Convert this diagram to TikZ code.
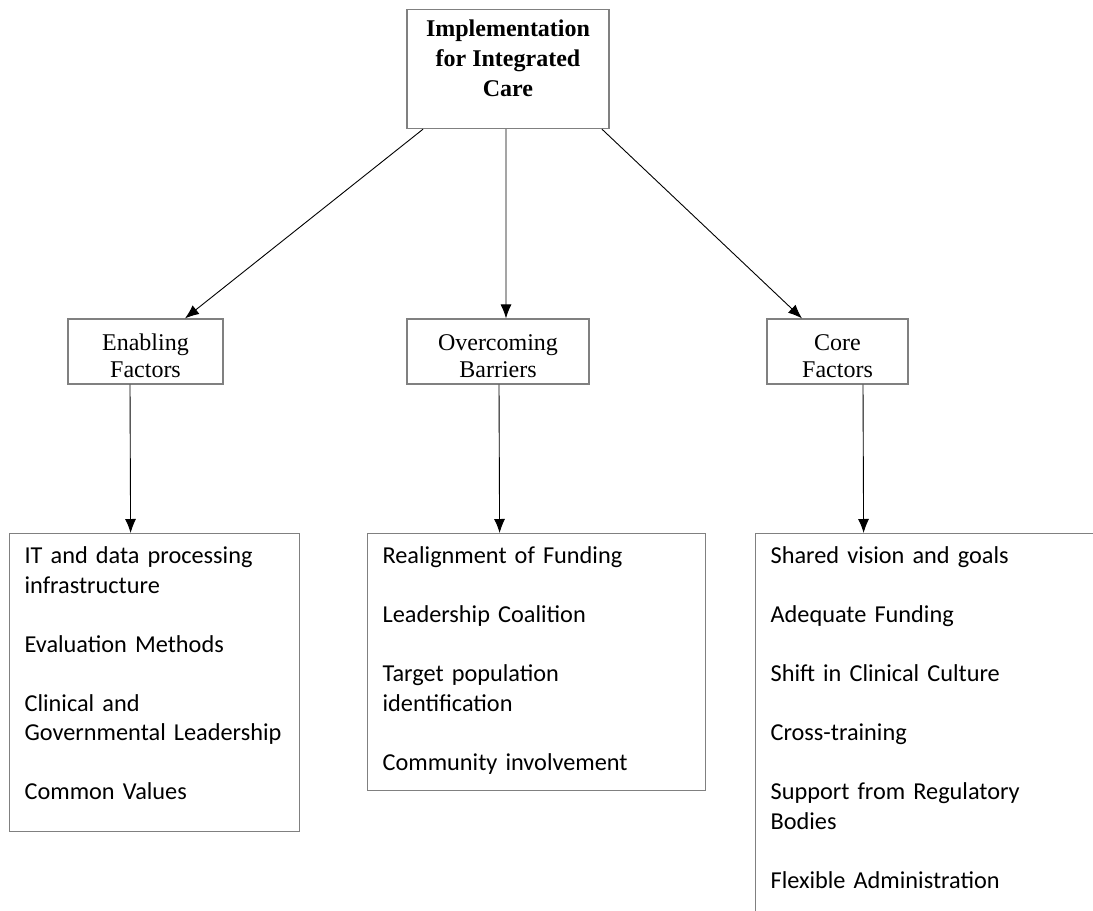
\documentclass[tikz,border=0pt]{standalone}
\usepackage{fontspec}
\setmainfont{Liberation Serif}
\newfontfamily\calibri{Carlito}
\usetikzlibrary{arrows.meta}
\begin{document}
\begin{tikzpicture}[x=1bp,y=-1bp,>={Latex[length=14bp,width=11bp]},
  box/.style={draw=gray,line width=1.2bp,align=center,inner ysep=0pt,text height=58bp,text depth=7bp,font=\fontsize{24bp}{27bp}\selectfont},
  listbox/.style={draw=gray,line width=1.2bp,anchor=north west,align=left,inner xsep=15bp,inner ysep=9.35bp,font=\calibri\fontsize{24.3bp}{29.5bp}\selectfont},
  link/.style={black,line width=0.9bp,->}]
\useasboundingbox (0,0) rectangle (1093,911);
\clip (0,0) rectangle (1093,911);
%%
\node (impl) at (508,9) [box,anchor=north,minimum width=202bp,text height=87bp,text depth=32bp,font=\bfseries\fontsize{24bp}{30bp}\selectfont] {Implementation\\for Integrated\\Care};
  \node (enab) at (145.5,351.5) [box,minimum width=155bp] {Enabling\\Factors};
  \node (barr) at (498,351.5) [box,minimum width=182bp] {Overcoming\\Barriers};
  \node (core) at (837.5,351.5) [box,minimum width=141bp] {Core\\Factors};
  \node (enablist) at (9,533) [listbox,text width=260bp,text depth=258.65bp] {\strut IT and data processing\\infrastructure\\[29.5bp]Evaluation Methods\\[29.5bp]Clinical and\\Governmental Leadership\\[29.5bp]Common Values};
  \node (barrlist) at (367,533) [listbox,text width=308bp,text depth=217.65bp] {\strut Realignment of Funding\\[29.5bp]Leadership Coalition\\[29.5bp]Target population\\identification\\[29.5bp]Community involvement};
  \node (corelist) at (755,533) [listbox,text width=330bp,text depth=367.65bp] {\strut Shared vision and goals\\[29.5bp]Adequate Funding\\[29.5bp]Shift in Clinical Culture\\[29.5bp]Cross-training\\[29.5bp]Support from Regulatory\\Bodies\\[29.5bp]Flexible Administration};
  \draw [link] ([xshift=-85bp]impl.south) -- ([xshift=39.5bp]enab.north);
  \draw [link] ([xshift=-2bp]impl.south) -- ([xshift=8bp]barr.north);
  \draw [link] ([xshift=94bp]impl.south) -- ([xshift=-35.5bp]core.north);
  \draw [link] ([xshift=-15.5bp]enab.south) -- ([xshift=-24bp]enablist.north);
  \draw [link] ([xshift=1bp]barr.south) -- ([xshift=-37bp]barrlist.north);
  \draw [link] ([xshift=25.5bp]core.south) -- ([xshift=-72bp]corelist.north);
%
\end{tikzpicture}
\end{document}
